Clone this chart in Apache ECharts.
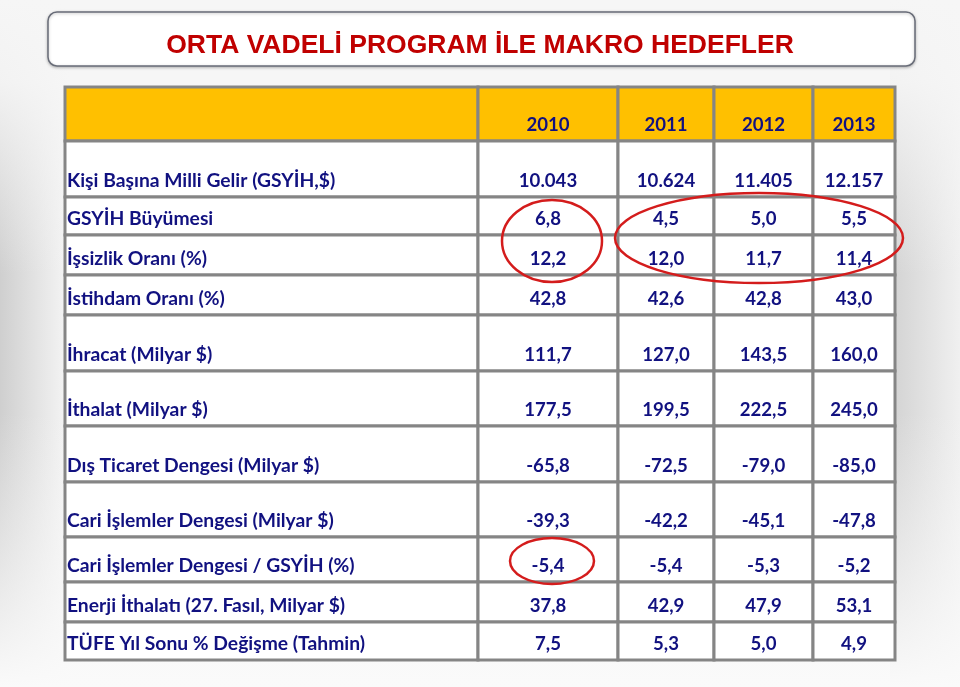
<!DOCTYPE html>
<html><head><meta charset="utf-8">
<script src="https://cdn.jsdelivr.net/npm/echarts@6/dist/echarts.min.js"></script>
<style>html,body{margin:0;padding:0;background:#f6f6f6}#c{width:960px;height:687px}</style>
</head><body><div id="c"></div>
<script>
// ---- data ----
const titleText = 'ORTA VADELİ PROGRAM İLE MAKRO HEDEFLER';
const years = ['2010', '2011', '2012', '2013'];
const rowLabels = [
  'Kişi Başına Milli Gelir (GSYİH,$)',
  'GSYİH Büyümesi',
  'İşsizlik Oranı (%)',
  'İstihdam Oranı (%)',
  'İhracat (Milyar $)',
  'İthalat (Milyar $)',
  'Dış Ticaret Dengesi (Milyar $)',
  'Cari İşlemler Dengesi (Milyar $)',
  'Cari İşlemler Dengesi / GSYİH (%)',
  'Enerji İthalatı (27. Fasıl, Milyar $)',
  'TÜFE Yıl Sonu % Değişme (Tahmin)'
];
const v2010 = [10043, 6.8, 12.2, 42.8, 111.7, 177.5, -65.8, -39.3, -5.4, 37.8, 7.5];
const v2011 = [10624, 4.5, 12.0, 42.6, 127.0, 199.5, -72.5, -42.2, -5.4, 42.9, 5.3];
const v2012 = [11405, 5.0, 11.7, 42.8, 143.5, 222.5, -79.0, -45.1, -5.3, 47.9, 5.0];
const v2013 = [12157, 5.5, 11.4, 43.0, 160.0, 245.0, -85.0, -47.8, -5.2, 53.1, 4.9];
const valueCols = [v2010, v2011, v2012, v2013];

// ---- layout (axis units) ----
const colEdges = [0, 413, 553, 649, 748, 830];
const rowEdges = [0, 54, 110, 148, 188, 228, 284, 339, 395, 450, 495, 535, 573];
// highlight ellipses: [cx, cy, rx, ry] in axis units
const ellipses = [[487, 154, 50, 41], [694, 151, 144, 45], [487, 474, 42, 23]];

function fmt(v, r) {
  if (r === 0) return String(v).replace(/\B(?=(\d{3})+(?!\d))/g, '.');
  return v.toFixed(1).replace('.', ',');
}

const cells = [];
cells.push([0, 0, '']);
years.forEach((y, i) => cells.push([i + 1, 0, y]));
rowLabels.forEach((lab, r) => {
  cells.push([0, r + 1, lab]);
  valueCols.forEach((col, c) => cells.push([c + 1, r + 1, fmt(col[r], r)]));
});

const FONT = 'Lato';
const NAVY = '#111180';

const chart = echarts.init(document.getElementById('c'), null, { renderer: 'canvas' });
chart.setOption({
  backgroundColor: '#f6f6f6',
  animation: false,
  title: {
    text: titleText, left: 'center', top: 27,
    textStyle: { fontFamily: 'Liberation Sans', fontWeight: 'bold', fontSize: 26.5, color: '#c00000' }
  },
  graphic: [
    { type: 'rect', z: -10, shape: { x: 0, y: 0, width: 70, height: 687 },
      style: { fill: new echarts.graphic.LinearGradient(0, 0, 1, 0, [{ offset: 0, color: '#cfcfcf' }, { offset: 1, color: '#f6f6f6' }]) } },
    { type: 'rect', z: -10, shape: { x: 890, y: 0, width: 70, height: 687 },
      style: { fill: new echarts.graphic.LinearGradient(0, 0, 1, 0, [{ offset: 0, color: '#d2d2d2' }, { offset: 1, color: '#f0f0f0' }]) } },
    { type: 'rect', z: -9, shape: { x: 0, y: 0, width: 960, height: 687 },
      style: { fill: new echarts.graphic.LinearGradient(0, 0, 0, 1, [
        { offset: 0, color: 'rgba(246,246,246,1)' }, { offset: 0.12, color: 'rgba(246,246,246,0.9)' },
        { offset: 0.4, color: 'rgba(246,246,246,0)' }, { offset: 0.6, color: 'rgba(246,246,246,0)' },
        { offset: 1, color: 'rgba(250,250,250,1)' }]) } },
    { type: 'rect', z: -5, shape: { x: 48, y: 12, width: 867, height: 54, r: 9 },
      style: { fill: '#ffffff', stroke: '#686c78', lineWidth: 1.5, shadowBlur: 3, shadowColor: 'rgba(0,0,0,0.25)', shadowOffsetY: 1 } }
  ],
  grid: { left: 65, right: 65, top: 87, bottom: 27 },
  xAxis: { type: 'value', min: 0, max: 830, show: false },
  yAxis: { type: 'value', min: 0, max: 573, inverse: true, show: false },
  series: [
    {
      type: 'custom',
      data: cells,
      renderItem: function (params, api) {
        const c = api.value(0), r = api.value(1);
        const text = cells[params.dataIndex][2];
        const p1 = api.coord([colEdges[c], rowEdges[r]]);
        const p2 = api.coord([colEdges[c + 1], rowEdges[r + 1]]);
        const w = p2[0] - p1[0], h = p2[1] - p1[1];
        return {
          type: 'group',
          children: [
            { type: 'rect', shape: { x: p1[0], y: p1[1], width: w, height: h },
              style: { fill: r === 0 ? '#ffc000' : '#ffffff', stroke: '#858585', lineWidth: 3 } },
            { type: 'text', z2: 10,
              style: { text: text, x: c === 0 ? p1[0] + 2 : p1[0] + w / 2, y: p2[1] - 16,
                align: c === 0 ? 'left' : 'center', verticalAlign: 'middle',
                fontFamily: FONT, fontWeight: 'bold', fontSize: c === 0 ? 19.3 : 18.6, fill: NAVY } }
          ]
        };
      }
    },
    {
      type: 'custom',
      data: ellipses,
      z: 5,
      renderItem: function (params, api) {
        const e = ellipses[params.dataIndex];
        const c = api.coord([e[0], e[1]]);
        const rx = api.size([e[2], 0])[0], ry = api.size([0, e[3]])[1];
        return { type: 'ellipse', shape: { cx: c[0], cy: c[1], rx: rx, ry: ry },
          style: { fill: 'none', stroke: '#d41c1c', lineWidth: 2.5 } };
      }
    }
  ]
});
</script></body></html>
